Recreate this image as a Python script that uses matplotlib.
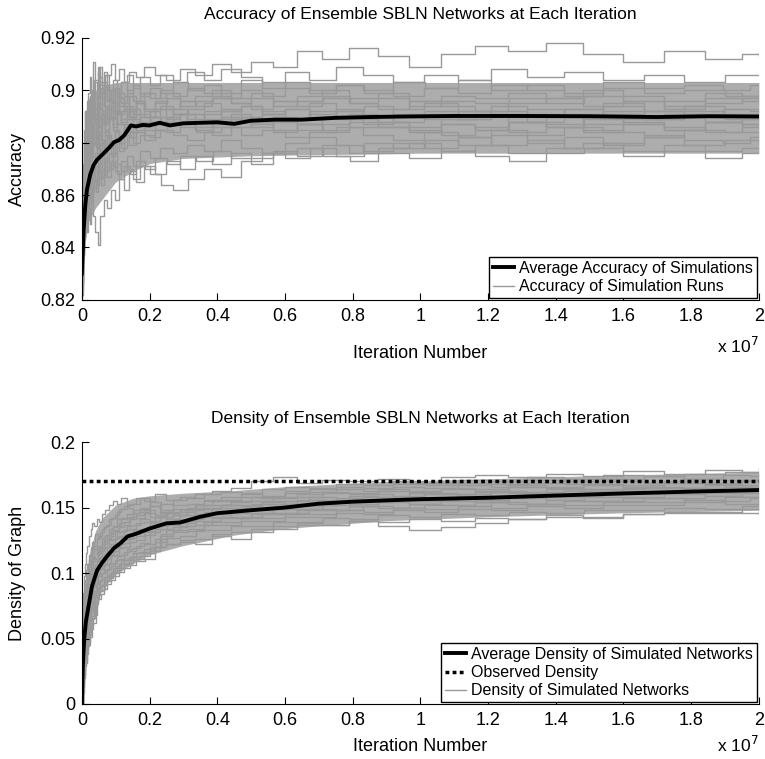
import numpy as np
import matplotlib
matplotlib.use('Agg')
import matplotlib.pyplot as plt

plt.rcParams['font.family'] = ['Liberation Sans', 'DejaVu Sans']

# Two sampling grids (iteration number, units of 1e7) used by the simulation runs
grid_a = [0, 0.003, 0.006, 0.01, 0.014, 0.018, 0.023, 0.028, 0.034, 0.04, 0.047, 0.055,
          0.064, 0.074, 0.085, 0.097, 0.11, 0.124, 0.14, 0.16, 0.185, 0.215, 0.25, 0.29,
          0.335, 0.385, 0.44, 0.5, 0.565, 0.635, 0.71, 0.79, 0.875, 0.965, 1.06, 1.16,
          1.26, 1.37, 1.48, 1.6, 1.72, 1.84, 1.95, 2.0]
grid_b = [0, 0.002, 0.005, 0.008, 0.012, 0.016, 0.021, 0.026, 0.031, 0.037, 0.044, 0.051,
          0.06, 0.069, 0.08, 0.091, 0.104, 0.117, 0.132, 0.15, 0.172, 0.2, 0.232, 0.27,
          0.312, 0.36, 0.412, 0.47, 0.532, 0.6, 0.672, 0.75, 0.832, 0.92, 1.01, 1.11,
          1.21, 1.315, 1.425, 1.54, 1.66, 1.78, 1.9, 2.0]

# Accuracy of individual simulation runs (estimated from the grey band)
acc_runs = [
    [0.827, 0.842, 0.858, 0.870, 0.879, 0.886, 0.883, 0.891, 0.895, 0.889,
     0.897, 0.903, 0.899, 0.906, 0.910, 0.904, 0.908, 0.903, 0.907, 0.905, 0.909, 0.906,
     0.904, 0.908, 0.906, 0.910, 0.907, 0.911, 0.909, 0.915, 0.912, 0.916, 0.913, 0.909, 0.914, 0.917, 0.915, 0.918, 0.914, 0.911, 0.915, 0.912, 0.914, 0.913],
    [0.824, 0.851, 0.868, 0.880, 0.892, 0.885, 0.896, 0.890, 0.899, 0.894,
     0.903, 0.898, 0.909, 0.902, 0.906, 0.900, 0.904, 0.899, 0.903, 0.906, 0.901, 0.905,
     0.902, 0.906, 0.903, 0.907, 0.904, 0.908, 0.905, 0.903, 0.907, 0.904, 0.909, 0.906, 0.903, 0.906, 0.904, 0.908, 0.905, 0.907, 0.904, 0.906, 0.903, 0.906],
    [0.829, 0.839, 0.855, 0.866, 0.877, 0.889, 0.882, 0.894, 0.900, 0.893,
     0.899, 0.905, 0.897, 0.902, 0.896, 0.901, 0.898, 0.903, 0.899, 0.902, 0.898, 0.901,
     0.899, 0.903, 0.900, 0.902, 0.899, 0.904, 0.901, 0.903, 0.900, 0.902, 0.899, 0.903, 0.901, 0.904, 0.900, 0.902, 0.899, 0.903, 0.901, 0.902, 0.900, 0.902],
    [0.822, 0.845, 0.861, 0.875, 0.884, 0.879, 0.890, 0.886, 0.897, 0.891,
     0.895, 0.890, 0.899, 0.893, 0.897, 0.892, 0.898, 0.895, 0.900, 0.896, 0.899, 0.897,
     0.900, 0.898, 0.901, 0.899, 0.897, 0.900, 0.898, 0.901, 0.899, 0.902, 0.900, 0.898, 0.901, 0.899, 0.902, 0.900, 0.898, 0.901, 0.899, 0.900, 0.898, 0.900],
    [0.831, 0.856, 0.872, 0.885, 0.878, 0.893, 0.887, 0.898, 0.892, 0.904,
     0.897, 0.907, 0.899, 0.903, 0.896, 0.900, 0.895, 0.899, 0.894, 0.898, 0.896, 0.899,
     0.897, 0.899, 0.896, 0.898, 0.900, 0.897, 0.899, 0.896, 0.898, 0.900, 0.897, 0.899, 0.896, 0.898, 0.897, 0.899, 0.897, 0.900, 0.898, 0.896, 0.899, 0.898],
    [0.825, 0.836, 0.849, 0.862, 0.871, 0.866, 0.878, 0.873, 0.884, 0.880,
     0.888, 0.884, 0.891, 0.887, 0.893, 0.889, 0.895, 0.891, 0.894, 0.890, 0.896, 0.893,
     0.895, 0.897, 0.894, 0.896, 0.898, 0.895, 0.897, 0.894, 0.896, 0.898, 0.895, 0.897, 0.894, 0.896, 0.895, 0.897, 0.895, 0.898, 0.896, 0.894, 0.897, 0.896],
    [0.828, 0.853, 0.866, 0.859, 0.874, 0.884, 0.877, 0.889, 0.896, 0.888,
     0.893, 0.901, 0.894, 0.889, 0.895, 0.891, 0.897, 0.893, 0.890, 0.895, 0.892, 0.896,
     0.893, 0.896, 0.894, 0.897, 0.895, 0.893, 0.896, 0.894, 0.897, 0.895, 0.893, 0.896, 0.894, 0.892, 0.895, 0.897, 0.894, 0.896, 0.893, 0.895, 0.897, 0.895],
    [0.823, 0.833, 0.846, 0.857, 0.868, 0.877, 0.872, 0.882, 0.878, 0.887,
     0.883, 0.890, 0.886, 0.892, 0.888, 0.894, 0.890, 0.887, 0.892, 0.889, 0.893, 0.890,
     0.892, 0.894, 0.891, 0.893, 0.895, 0.892, 0.894, 0.891, 0.893, 0.895, 0.892, 0.890, 0.893, 0.895, 0.892, 0.894, 0.891, 0.893, 0.895, 0.892, 0.894, 0.893],
    [0.830, 0.847, 0.863, 0.876, 0.870, 0.882, 0.876, 0.887, 0.881, 0.891,
     0.886, 0.895, 0.889, 0.884, 0.890, 0.886, 0.892, 0.888, 0.893, 0.889, 0.891, 0.888,
     0.890, 0.893, 0.891, 0.889, 0.892, 0.894, 0.891, 0.893, 0.890, 0.892, 0.894, 0.891, 0.889, 0.892, 0.890, 0.893, 0.891, 0.894, 0.892, 0.890, 0.893, 0.892],
    [0.826, 0.840, 0.852, 0.865, 0.874, 0.869, 0.880, 0.875, 0.885, 0.879,
     0.884, 0.879, 0.887, 0.883, 0.889, 0.885, 0.891, 0.887, 0.884, 0.889, 0.886, 0.890,
     0.888, 0.891, 0.889, 0.892, 0.890, 0.888, 0.891, 0.889, 0.892, 0.890, 0.887, 0.890, 0.892, 0.889, 0.891, 0.888, 0.890, 0.892, 0.889, 0.891, 0.889, 0.890],
    [0.821, 0.831, 0.843, 0.854, 0.862, 0.857, 0.867, 0.862, 0.872, 0.868,
     0.876, 0.872, 0.880, 0.876, 0.883, 0.879, 0.885, 0.882, 0.887, 0.884, 0.888, 0.885,
     0.887, 0.890, 0.888, 0.886, 0.889, 0.891, 0.888, 0.890, 0.887, 0.889, 0.891, 0.888, 0.886, 0.889, 0.891, 0.888, 0.890, 0.887, 0.889, 0.891, 0.888, 0.889],
    [0.827, 0.844, 0.858, 0.871, 0.866, 0.875, 0.870, 0.879, 0.874, 0.883,
     0.878, 0.886, 0.881, 0.876, 0.882, 0.878, 0.884, 0.880, 0.886, 0.882, 0.885, 0.883,
     0.885, 0.888, 0.886, 0.884, 0.887, 0.889, 0.886, 0.888, 0.885, 0.887, 0.889, 0.886, 0.884, 0.887, 0.885, 0.888, 0.886, 0.889, 0.887, 0.885, 0.888, 0.887],
    [0.824, 0.837, 0.850, 0.847, 0.858, 0.866, 0.861, 0.870, 0.865, 0.874,
     0.869, 0.877, 0.872, 0.879, 0.875, 0.881, 0.877, 0.883, 0.879, 0.884, 0.881, 0.885,
     0.884, 0.887, 0.885, 0.883, 0.886, 0.888, 0.885, 0.887, 0.884, 0.886, 0.888, 0.885, 0.883, 0.886, 0.884, 0.887, 0.885, 0.888, 0.886, 0.884, 0.887, 0.886],
    [0.829, 0.849, 0.864, 0.873, 0.866, 0.879, 0.872, 0.885, 0.878, 0.888,
     0.881, 0.875, 0.883, 0.877, 0.885, 0.880, 0.876, 0.882, 0.878, 0.884, 0.880, 0.883,
     0.882, 0.885, 0.883, 0.881, 0.884, 0.886, 0.883, 0.885, 0.882, 0.884, 0.886, 0.883, 0.881, 0.884, 0.882, 0.885, 0.883, 0.886, 0.884, 0.882, 0.885, 0.884],
    [0.823, 0.834, 0.845, 0.853, 0.861, 0.856, 0.865, 0.859, 0.868, 0.863,
     0.871, 0.866, 0.874, 0.869, 0.876, 0.871, 0.868, 0.873, 0.870, 0.866, 0.871, 0.868,
     0.864, 0.862, 0.866, 0.870, 0.867, 0.873, 0.876, 0.874, 0.878, 0.875, 0.880, 0.878, 0.881, 0.879, 0.883, 0.880, 0.882, 0.879, 0.883, 0.881, 0.880, 0.882],
    [0.826, 0.838, 0.848, 0.858, 0.853, 0.862, 0.857, 0.866, 0.861, 0.869,
     0.864, 0.872, 0.867, 0.874, 0.870, 0.876, 0.872, 0.869, 0.875, 0.871, 0.877, 0.874,
     0.878, 0.876, 0.879, 0.877, 0.881, 0.878, 0.876, 0.880, 0.882, 0.879, 0.877, 0.880, 0.878, 0.882, 0.879, 0.881, 0.878, 0.880, 0.882, 0.879, 0.881, 0.880],
    [0.822, 0.830, 0.837, 0.844, 0.850, 0.846, 0.855, 0.849, 0.858, 0.852,
     0.846, 0.841, 0.852, 0.858, 0.855, 0.862, 0.858, 0.866, 0.862, 0.869, 0.865, 0.871,
     0.868, 0.873, 0.870, 0.875, 0.872, 0.876, 0.874, 0.877, 0.875, 0.879, 0.876, 0.878, 0.880, 0.877, 0.879, 0.876, 0.878, 0.880, 0.877, 0.879, 0.877, 0.878],
    [0.825, 0.832, 0.840, 0.848, 0.856, 0.851, 0.859, 0.864, 0.858, 0.866,
     0.861, 0.869, 0.864, 0.871, 0.867, 0.873, 0.869, 0.866, 0.871, 0.868, 0.873, 0.870,
     0.874, 0.872, 0.875, 0.873, 0.877, 0.874, 0.872, 0.876, 0.878, 0.875, 0.873, 0.876, 0.874, 0.877, 0.875, 0.873, 0.876, 0.878, 0.875, 0.877, 0.874, 0.876],
    [0.832, 0.860, 0.879, 0.892, 0.886, 0.899, 0.905, 0.898, 0.911, 0.904,
     0.909, 0.902, 0.907, 0.900, 0.896, 0.901, 0.894, 0.898, 0.892, 0.895, 0.890, 0.893,
     0.889, 0.891, 0.888, 0.886, 0.889, 0.887, 0.884, 0.887, 0.885, 0.888, 0.886, 0.884, 0.887, 0.885, 0.888, 0.886, 0.884, 0.887, 0.885, 0.888, 0.886, 0.886],
    [0.828, 0.843, 0.857, 0.869, 0.880, 0.874, 0.886, 0.881, 0.890, 0.885,
     0.891, 0.886, 0.893, 0.888, 0.894, 0.890, 0.887, 0.892, 0.889, 0.894, 0.891, 0.888,
     0.890, 0.893, 0.891, 0.888, 0.891, 0.893, 0.890, 0.892, 0.889, 0.891, 0.893, 0.890, 0.888, 0.891, 0.889, 0.892, 0.890, 0.893, 0.891, 0.889, 0.892, 0.891],
]

# Density of individual simulated networks
den_runs = [
    [0, 0.060, 0.080, 0.092, 0.100, 0.107, 0.113, 0.119, 0.124, 0.130,
     0.127, 0.131, 0.135, 0.137, 0.142, 0.144, 0.149, 0.151, 0.153, 0.157, 0.155, 0.160,
     0.156, 0.158, 0.160, 0.163, 0.165, 0.170, 0.173, 0.169, 0.171, 0.170, 0.172, 0.169, 0.173, 0.175, 0.173, 0.176, 0.174, 0.178, 0.176, 0.179, 0.177, 0.180],
    [0, 0.052, 0.074, 0.087, 0.095, 0.102, 0.107, 0.114, 0.120, 0.124,
     0.121, 0.126, 0.128, 0.134, 0.136, 0.141, 0.142, 0.147, 0.149, 0.152, 0.153, 0.157,
     0.151, 0.153, 0.156, 0.157, 0.160, 0.162, 0.161, 0.164, 0.166, 0.165, 0.168, 0.167, 0.170, 0.169, 0.171, 0.170, 0.173, 0.172, 0.175, 0.174, 0.176, 0.177],
    [0, 0.055, 0.070, 0.082, 0.092, 0.097, 0.105, 0.110, 0.118, 0.121,
     0.119, 0.121, 0.127, 0.129, 0.134, 0.136, 0.141, 0.142, 0.145, 0.148, 0.150, 0.154,
     0.148, 0.152, 0.153, 0.156, 0.158, 0.160, 0.159, 0.163, 0.164, 0.166, 0.165, 0.168, 0.167, 0.169, 0.168, 0.171, 0.170, 0.172, 0.174, 0.172, 0.175, 0.174],
    [0, 0.048, 0.066, 0.078, 0.086, 0.094, 0.099, 0.107, 0.111, 0.118,
     0.114, 0.120, 0.122, 0.128, 0.130, 0.135, 0.136, 0.141, 0.142, 0.146, 0.147, 0.151,
     0.147, 0.149, 0.150, 0.155, 0.156, 0.158, 0.157, 0.161, 0.162, 0.164, 0.163, 0.166, 0.165, 0.167, 0.166, 0.169, 0.168, 0.170, 0.169, 0.172, 0.171, 0.173],
    [0, 0.045, 0.061, 0.074, 0.083, 0.088, 0.097, 0.101, 0.109, 0.112,
     0.111, 0.117, 0.119, 0.125, 0.127, 0.132, 0.133, 0.138, 0.139, 0.143, 0.144, 0.148,
     0.144, 0.147, 0.148, 0.152, 0.155, 0.154, 0.158, 0.157, 0.160, 0.162, 0.161, 0.164, 0.163, 0.165, 0.164, 0.167, 0.166, 0.168, 0.167, 0.170, 0.169, 0.171],
    [0, 0.041, 0.059, 0.069, 0.079, 0.085, 0.092, 0.098, 0.104, 0.109,
     0.109, 0.115, 0.117, 0.122, 0.126, 0.128, 0.132, 0.135, 0.137, 0.141, 0.142, 0.146,
     0.143, 0.146, 0.147, 0.152, 0.152, 0.155, 0.155, 0.158, 0.158, 0.161, 0.160, 0.163, 0.162, 0.164, 0.163, 0.166, 0.165, 0.167, 0.166, 0.169, 0.168, 0.170],
    [0, 0.038, 0.054, 0.066, 0.074, 0.082, 0.088, 0.095, 0.099, 0.106,
     0.106, 0.112, 0.114, 0.120, 0.122, 0.127, 0.128, 0.133, 0.134, 0.138, 0.139, 0.143,
     0.141, 0.144, 0.145, 0.150, 0.150, 0.153, 0.153, 0.156, 0.156, 0.159, 0.158, 0.161, 0.160, 0.162, 0.161, 0.164, 0.163, 0.165, 0.165, 0.167, 0.166, 0.168],
    [0, 0.034, 0.052, 0.061, 0.071, 0.076, 0.085, 0.089, 0.097, 0.100,
     0.104, 0.109, 0.112, 0.118, 0.120, 0.125, 0.126, 0.131, 0.132, 0.136, 0.137, 0.141,
     0.140, 0.143, 0.144, 0.149, 0.149, 0.152, 0.152, 0.155, 0.155, 0.158, 0.157, 0.160, 0.159, 0.161, 0.160, 0.163, 0.162, 0.164, 0.164, 0.166, 0.165, 0.167],
    [0, 0.032, 0.046, 0.059, 0.065, 0.074, 0.079, 0.087, 0.091, 0.098,
     0.101, 0.107, 0.109, 0.115, 0.117, 0.122, 0.123, 0.128, 0.129, 0.133, 0.134, 0.138,
     0.138, 0.141, 0.142, 0.147, 0.147, 0.150, 0.150, 0.153, 0.153, 0.156, 0.155, 0.158, 0.157, 0.159, 0.158, 0.161, 0.160, 0.162, 0.162, 0.164, 0.163, 0.165],
    [0, 0.027, 0.044, 0.053, 0.063, 0.068, 0.077, 0.081, 0.089, 0.092,
     0.098, 0.104, 0.106, 0.112, 0.114, 0.119, 0.120, 0.125, 0.126, 0.130, 0.131, 0.135,
     0.137, 0.140, 0.141, 0.146, 0.146, 0.149, 0.149, 0.152, 0.152, 0.155, 0.154, 0.157, 0.156, 0.158, 0.157, 0.160, 0.159, 0.161, 0.161, 0.163, 0.162, 0.164],
    [0, 0.025, 0.038, 0.051, 0.057, 0.066, 0.071, 0.079, 0.083, 0.090,
     0.095, 0.101, 0.103, 0.109, 0.111, 0.116, 0.117, 0.122, 0.123, 0.127, 0.128, 0.132,
     0.136, 0.139, 0.140, 0.145, 0.145, 0.148, 0.148, 0.151, 0.151, 0.154, 0.153, 0.156, 0.155, 0.157, 0.156, 0.159, 0.158, 0.160, 0.160, 0.162, 0.161, 0.163],
    [0, 0.021, 0.036, 0.045, 0.055, 0.060, 0.069, 0.073, 0.081, 0.084,
     0.092, 0.098, 0.100, 0.106, 0.108, 0.113, 0.114, 0.119, 0.120, 0.124, 0.125, 0.129,
     0.134, 0.137, 0.138, 0.143, 0.143, 0.146, 0.146, 0.149, 0.149, 0.152, 0.151, 0.154, 0.153, 0.155, 0.154, 0.157, 0.156, 0.158, 0.158, 0.160, 0.159, 0.161],
    [0, 0.018, 0.030, 0.043, 0.049, 0.058, 0.063, 0.071, 0.075, 0.082,
     0.089, 0.095, 0.097, 0.103, 0.105, 0.110, 0.111, 0.116, 0.117, 0.121, 0.122, 0.126,
     0.133, 0.136, 0.137, 0.142, 0.142, 0.145, 0.145, 0.148, 0.148, 0.151, 0.150, 0.153, 0.152, 0.154, 0.153, 0.156, 0.155, 0.157, 0.157, 0.159, 0.158, 0.160],
    [0, 0.014, 0.028, 0.037, 0.047, 0.052, 0.061, 0.065, 0.073, 0.076,
     0.086, 0.092, 0.094, 0.100, 0.102, 0.107, 0.108, 0.113, 0.114, 0.118, 0.119, 0.123,
     0.131, 0.134, 0.135, 0.140, 0.140, 0.143, 0.143, 0.146, 0.146, 0.149, 0.148, 0.151, 0.150, 0.152, 0.151, 0.154, 0.153, 0.155, 0.155, 0.157, 0.156, 0.158],
    [0, 0.012, 0.022, 0.035, 0.041, 0.050, 0.055, 0.063, 0.067, 0.074,
     0.083, 0.089, 0.091, 0.097, 0.099, 0.104, 0.105, 0.110, 0.111, 0.115, 0.116, 0.120,
     0.130, 0.133, 0.134, 0.139, 0.139, 0.142, 0.142, 0.145, 0.145, 0.148, 0.147, 0.150, 0.149, 0.151, 0.150, 0.153, 0.152, 0.154, 0.154, 0.156, 0.155, 0.157],
    [0, 0.008, 0.020, 0.029, 0.039, 0.044, 0.053, 0.057, 0.065, 0.068,
     0.080, 0.086, 0.088, 0.094, 0.096, 0.101, 0.102, 0.107, 0.108, 0.112, 0.113, 0.117,
     0.128, 0.131, 0.132, 0.137, 0.137, 0.140, 0.140, 0.143, 0.143, 0.146, 0.145, 0.148, 0.147, 0.149, 0.148, 0.151, 0.150, 0.152, 0.152, 0.154, 0.153, 0.155],
    [0, 0.006, 0.015, 0.026, 0.033, 0.042, 0.047, 0.055, 0.060, 0.066,
     0.078, 0.083, 0.086, 0.091, 0.094, 0.098, 0.100, 0.104, 0.106, 0.110, 0.111, 0.115,
     0.120, 0.122, 0.124, 0.122, 0.128, 0.126, 0.131, 0.136, 0.138, 0.137, 0.140, 0.136, 0.133, 0.135, 0.138, 0.141, 0.143, 0.142, 0.145, 0.147, 0.146, 0.149],
    [0, 0.004, 0.013, 0.022, 0.031, 0.038, 0.045, 0.051, 0.057, 0.062,
     0.076, 0.080, 0.084, 0.088, 0.092, 0.095, 0.098, 0.101, 0.104, 0.106, 0.109, 0.111,
     0.124, 0.127, 0.128, 0.133, 0.133, 0.136, 0.136, 0.139, 0.139, 0.142, 0.141, 0.144, 0.143, 0.145, 0.144, 0.147, 0.146, 0.148, 0.148, 0.150, 0.149, 0.151],
    [0, 0.020, 0.035, 0.046, 0.054, 0.061, 0.067, 0.073, 0.079, 0.083,
     0.088, 0.091, 0.094, 0.098, 0.101, 0.104, 0.107, 0.110, 0.112, 0.115, 0.118, 0.120,
     0.122, 0.125, 0.126, 0.130, 0.131, 0.134, 0.134, 0.137, 0.137, 0.140, 0.139, 0.141, 0.140, 0.142, 0.141, 0.144, 0.143, 0.145, 0.146, 0.147, 0.146, 0.148],
    [0, 0.065, 0.085, 0.098, 0.107, 0.115, 0.121, 0.128, 0.134, 0.138,
     0.136, 0.141, 0.139, 0.145, 0.148, 0.152, 0.155, 0.153, 0.157, 0.150, 0.146, 0.149,
     0.143, 0.146, 0.144, 0.148, 0.150, 0.152, 0.151, 0.154, 0.153, 0.156, 0.155, 0.158, 0.157, 0.160, 0.159, 0.162, 0.161, 0.163, 0.163, 0.165, 0.164, 0.166],
]

# Where the many overlapping runs merge into a solid grey band
acc_band_iters = [0, 0.004, 0.01, 0.02, 0.04, 0.07, 0.1, 0.15, 0.2, 0.3, 0.5, 1.0, 1.5, 2.0]
acc_band_low = [0.822, 0.832, 0.842, 0.850, 0.855, 0.860, 0.865, 0.869, 0.872, 0.874,
                0.875, 0.876, 0.876, 0.876]
acc_band_high = [0.826, 0.868, 0.888, 0.897, 0.900, 0.902, 0.903, 0.903, 0.903, 0.903,
                 0.903, 0.903, 0.903, 0.903]

den_band_iters = [0, 0.005, 0.01, 0.02, 0.04, 0.06, 0.1, 0.15, 0.2, 0.3, 0.45, 0.6, 0.9,
                  1.2, 1.6, 2.0]
den_band_low = [0, 0.012, 0.030, 0.052, 0.075, 0.088, 0.099, 0.107, 0.114, 0.121, 0.129,
                0.134, 0.140, 0.143, 0.146, 0.148]
den_band_high = [0, 0.060, 0.090, 0.112, 0.132, 0.142, 0.152, 0.157, 0.159, 0.161, 0.163,
                 0.166, 0.170, 0.172, 0.175, 0.177]

# Averages over all runs
acc_mean_iters = [0, 0.005, 0.01, 0.015, 0.025, 0.035, 0.045, 0.065, 0.08, 0.095, 0.11, 0.125,
                  0.145, 0.16, 0.18, 0.2, 0.23, 0.26, 0.3, 0.35, 0.4, 0.45, 0.5, 0.57, 0.65,
                  0.75, 0.85, 0.95, 1.1, 1.3, 1.5, 1.7, 1.85, 2.0]
acc_mean = [0.830, 0.846, 0.856, 0.862, 0.868, 0.8715, 0.8735, 0.876, 0.878, 0.8802, 0.881, 0.8828,
            0.8866, 0.8862, 0.8868, 0.8866, 0.8876, 0.8866, 0.8874, 0.8876, 0.8878, 0.8872, 0.8884,
            0.8888, 0.8888, 0.8895, 0.8898, 0.8900, 0.8902, 0.8902, 0.8901, 0.8898, 0.8901, 0.8900]

den_mean_iters = [0, 0.003, 0.007, 0.012, 0.02, 0.03, 0.045, 0.06, 0.075, 0.095, 0.115, 0.135,
                  0.16, 0.2, 0.25, 0.29, 0.35, 0.4, 0.5, 0.6, 0.7, 0.8, 0.9, 1.0, 1.2, 1.4, 1.6,
                  1.8, 2.0]
den_mean = [0, 0.03, 0.05, 0.063, 0.075, 0.090, 0.102, 0.108, 0.113, 0.119, 0.123, 0.128, 0.130,
            0.134, 0.138, 0.1386, 0.143, 0.1457, 0.148, 0.150, 0.153, 0.1545, 0.1555, 0.1564,
            0.1575, 0.1592, 0.1608, 0.1622, 0.1634]

observed_density = 0.17

x_ticks = [0, 0.2, 0.4, 0.6, 0.8, 1, 1.2, 1.4, 1.6, 1.8, 2]
x_labels = ['0', '0.2', '0.4', '0.6', '0.8', '1', '1.2', '1.4', '1.6', '1.8', '2']
acc_ticks = [0.82, 0.84, 0.86, 0.88, 0.9, 0.92]
acc_labels = ['0.82', '0.84', '0.86', '0.88', '0.9', '0.92']
den_ticks = [0, 0.05, 0.1, 0.15, 0.2]
den_labels = ['0', '0.05', '0.1', '0.15', '0.2']

GREY = '0.6'
BAND = '0.68'
grids = [grid_a, grid_b]
steps = ['steps-post', 'steps-pre', 'steps-mid']

fig = plt.figure(figsize=(7.65, 7.59), dpi=100)
ax1 = fig.add_axes([0.107, 0.605, 0.885, 0.345])
ax2 = fig.add_axes([0.107, 0.0725, 0.885, 0.345])


def style_axes(ax, yticks, ylabels):
    for side in ['top', 'right']:
        ax.spines[side].set_visible(False)
    ax.set_xlim(0, 2)
    ax.set_xticks(x_ticks)
    ax.set_xticklabels(x_labels)
    ax.set_yticks(yticks)
    ax.set_yticklabels(ylabels)
    ax.set_ylim(yticks[0], yticks[-1])
    ax.tick_params(direction='in', length=5, width=0.8, labelsize=13, pad=6)
    ax.tick_params(axis='y', pad=5)


def legend_box(ax, handles, labels):
    leg = ax.legend(handles, labels, loc='lower right', fontsize=11.5, frameon=True,
                    fancybox=False, edgecolor='black', framealpha=1, borderaxespad=0.1,
                    borderpad=0.25, handlelength=1.3, handletextpad=0.35, labelspacing=0.2)
    leg.get_frame().set_linewidth(1.0)
    return leg


# Top: accuracy
ax1.fill_between(acc_band_iters, acc_band_low, acc_band_high, color=BAND, lw=0, zorder=0)
for i, run in enumerate(acc_runs):
    ax1.plot(grids[i % 2], run, color=GREY, lw=1, drawstyle=steps[i % 3], zorder=1)
ax1.plot(acc_mean_iters, acc_mean, color='black', lw=2.8, zorder=3)
style_axes(ax1, acc_ticks, acc_labels)
ax1.set_title('Accuracy of Ensemble SBLN Networks at Each Iteration', fontsize=12.5, pad=14)
ax1.set_ylabel('Accuracy', fontsize=13, labelpad=10)
ax1.set_xlabel('Iteration Number', fontsize=13, labelpad=14)
ax1.text(1.0, -0.178, 'x 10$^7$', transform=ax1.transAxes, ha='right', va='center', fontsize=12.5)
legend_box(ax1, [plt.Line2D([], [], color='black', lw=2.8), plt.Line2D([], [], color=GREY, lw=1)],
           ['Average Accuracy of Simulations', 'Accuracy of Simulation Runs'])

# Bottom: density
ax2.fill_between(den_band_iters, den_band_low, den_band_high, color=BAND, lw=0, zorder=0)
for i, run in enumerate(den_runs):
    ax2.plot(grids[i % 2], run, color=GREY, lw=1, drawstyle=steps[i % 3], zorder=1)
ax2.plot(den_mean_iters, den_mean, color='black', lw=2.8, zorder=3)
ax2.axhline(observed_density, color='black', lw=2.5, dashes=(1.1, 0.95), zorder=4)
style_axes(ax2, den_ticks, den_labels)
ax2.set_title('Density of Ensemble SBLN Networks at Each Iteration', fontsize=12.5, pad=14)
ax2.set_ylabel('Density of Graph', fontsize=13, labelpad=10)
ax2.set_xlabel('Iteration Number', fontsize=13, labelpad=6)
ax2.text(1.0, -0.155, 'x 10$^7$', transform=ax2.transAxes, ha='right', va='center', fontsize=12.5)
legend_box(ax2, [plt.Line2D([], [], color='black', lw=2.8),
                 plt.Line2D([], [], color='black', lw=2.5, dashes=(1.1, 0.95)),
                 plt.Line2D([], [], color=GREY, lw=1)],
           ['Average Density of Simulated Networks', 'Observed Density',
            'Density of Simulated Networks'])

fig.savefig('out.png', dpi=100)
